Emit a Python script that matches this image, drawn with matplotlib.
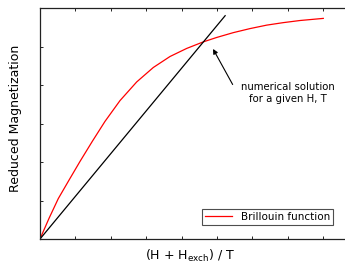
import matplotlib
matplotlib.use("Agg")
import matplotlib.pyplot as plt

# Brillouin curve
bx = [0, 0.254, 0.517, 0.82, 1.130, 1.48, 1.836, 2.260, 2.732, 3.201, 3.672, 4.144,
      4.613, 4.992, 5.460, 5.932, 6.404, 6.873, 7.345, 8.003]
by = [0, 0.107, 0.210, 0.306, 0.403, 0.508, 0.611, 0.719, 0.816, 0.891, 0.948, 0.990,
      1.024, 1.047, 1.072, 1.093, 1.111, 1.124, 1.135, 1.146]
# straight line
lx = [0, 5.23]
ly = [0, 1.16]

plt.rcParams['font.family'] = ['DejaVu Sans']
fig = plt.figure(figsize=(3.45, 2.64), dpi=100)
ax = fig.add_axes([40/345, 25/264, 318.6/345, 231/264])

ax.plot(bx, by, color='red', lw=0.9, label='Brillouin function')
ax.plot(lx, ly, color='black', lw=0.9)

ax.set_xlim(0, 9)
ax.set_ylim(0, 1.2)
ax.set_xticks(range(0, 10))
ax.set_yticks([0, 0.2, 0.4, 0.6, 0.8, 1.0, 1.2])
ax.tick_params(direction='in', length=2.5, width=0.6, top=True, right=True,
               labelbottom=False, labelleft=False)
for s in ax.spines.values():
    s.set_linewidth(0.9)
    s.set_color('#222222')

ax.set_ylabel('Reduced Magnetization', fontsize=9)
ax.yaxis.set_label_coords(-0.055, 0.524)
ax.set_xlabel(r'(H + H$_{\mathregular{exch}}$) / T', fontsize=9)
ax.xaxis.set_label_coords(0.471, -0.04)

ax.annotate('', xy=(4.85, 1.0), xytext=(5.48, 0.79),
            arrowprops=dict(arrowstyle='-|>', color='black', lw=0.8, mutation_scale=7))
ax.text(7.0, 0.758, 'numerical solution\nfor a given H, T', ha='center', va='center',
        fontsize=7.3, linespacing=1.25)

leg = ax.legend(loc='lower right', bbox_to_anchor=(333/345, 39/264), bbox_transform=fig.transFigure,
                fontsize=7.5, frameon=True, fancybox=False, handlelength=2.6, borderpad=0.3,
                borderaxespad=0)
leg.get_frame().set_edgecolor('#222222')
leg.get_frame().set_linewidth(0.8)

fig.savefig('out.png', dpi=100)
